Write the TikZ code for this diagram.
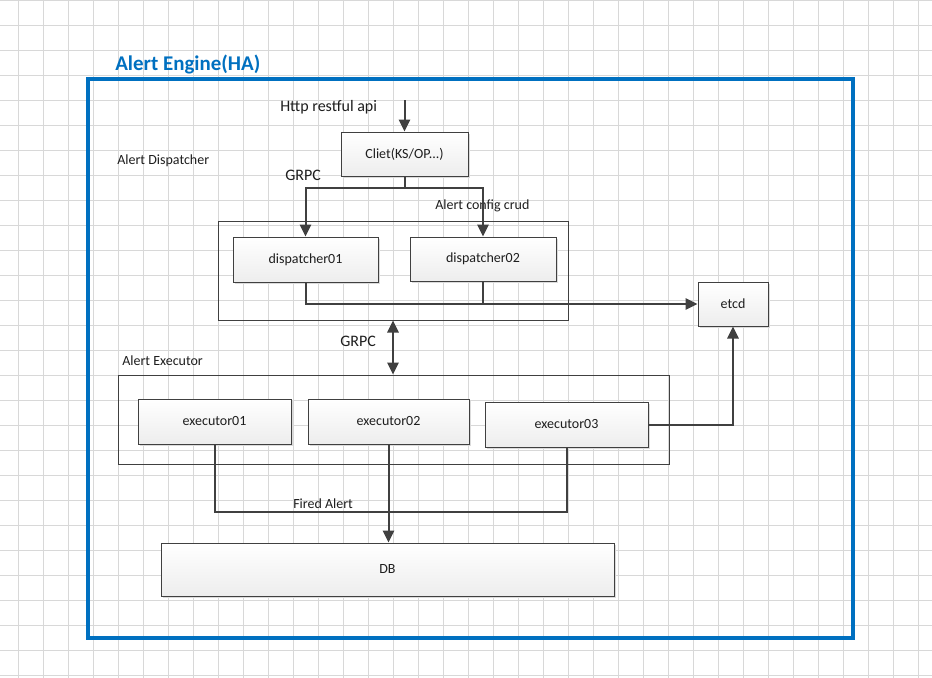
\documentclass[tikz,border=0pt]{standalone}
\usepackage{fontspec}
\setmainfont{Carlito}
\usetikzlibrary{arrows.meta,shadows,calc}
\definecolor{vblue}{RGB}{0,112,192}
\definecolor{lnc}{RGB}{64,64,64}
\definecolor{gridc}{RGB}{216,216,216}
\definecolor{txtc}{RGB}{30,30,30}
\begin{document}
\begin{tikzpicture}[x=0.75pt,y=-0.75pt,
  box/.style={draw=lnc,line width=0.75pt,top color=white,bottom color=black!7,inner sep=0pt,
    font=\fontsize{10.5}{12}\selectfont,text=txtc,
    drop shadow={shadow xshift=1.5pt,shadow yshift=-1.5pt,fill=black!14,opacity=1}},
  group/.style={draw=lnc,line width=0.75pt,inner sep=0pt},
  conn/.style={draw=lnc,line width=1.5pt},
  arr/.style={-{Triangle[length=9pt,width=8.5pt]}},
  biarr/.style={{Triangle[length=9pt,width=8.5pt]}-{Triangle[length=9pt,width=8.5pt]}},
  lbl/.style={font=\fontsize{10.5}{12}\selectfont,text=txtc,inner sep=0pt,anchor=west},
  biglbl/.style={font=\fontsize{12}{14}\selectfont,text=txtc,inner sep=0pt,anchor=west}]
\useasboundingbox (0,0) rectangle (932,678);
\fill[white] (0,0) rectangle (932,678);
% grid
\foreach \gx in {18,43,...,918} \draw[gridc,line width=0.6pt] (\gx,0) -- (\gx,678);
\foreach \gy in {0,25,...,675} \draw[gridc,line width=0.6pt] (0,\gy) -- (932,\gy);
% frame and title
\draw[vblue,line width=3pt] (88,79) rectangle (853,638);
\node[font=\bfseries\fontsize{15.7}{18}\selectfont,text=vblue,anchor=west,inner sep=0pt] (title) at (115,65) {Alert Engine(HA)};
% groups
\node[group,minimum width=262.5pt,minimum height=74.25pt] (dg) at (393,270.5) {};
\node[group,minimum width=413.25pt,minimum height=66.75pt] (eg) at (393.5,419.5) {};
% boxes
\node[box,minimum width=95.25pt,minimum height=33pt] (client) at (404.5,154) {Cliet(KS/OP...)};
\node[box,minimum width=108.75pt,minimum height=33.75pt] (d1) at (305.5,259.5) {dispatcher01};
\node[box,minimum width=109.5pt,minimum height=33pt] (d2) at (483,259) {dispatcher02};
\node[box,minimum width=52.5pt,minimum height=33pt] (etcd) at (733,304) {etcd};
\node[box,minimum width=114.75pt,minimum height=33.75pt] (e1) at (214.5,421.5) {executor01};
\node[box,minimum width=120.75pt,minimum height=33.75pt] (e2) at (388.5,421.5) {executor02};
\node[box,minimum width=122.25pt,minimum height=33.75pt] (e3) at (566.5,424.5) {executor03};
\node[box,minimum width=339.75pt,minimum height=39.75pt] (db) at (387.5,569.5) {DB};
% labels
\node[biglbl] (http) at (280,107) {Http restful api};
\node[biglbl] (grpc1) at (285,175) {GRPC};
\node[lbl] (crud) at (435,206) {Alert config crud};
\node[lbl] (adisp) at (117,161) {Alert Dispatcher};
\node[biglbl] (grpc2) at (340,341) {GRPC};
\node[lbl] (aexec) at (122,361) {Alert Executor};
\node[lbl] (fired) at (293,504) {Fired Alert};
% helper coordinates
\coordinate (httpin) at (404.5,100);
\coordinate (split) at (404.5,188);
\coordinate (grpcx) at (393,0);
\coordinate (faY) at (0,512);
% connectors
\draw[conn,arr] (httpin) -- (client.north);
\draw[conn] (client.south) -- (split);
\draw[conn,arr] (split) -| (d1.north);
\draw[conn,arr] (split) -| (d2.north);
\draw[conn,arr] (d1.south) |- (etcd.west);
\draw[conn] (d2.south) -- (d2.south |- etcd.west);
\draw[conn,biarr] (dg.south -| grpcx) -- (eg.north -| grpcx);
\draw[conn] (e1.south) |- (e3.south |- faY) -- (e3.south);
\draw[conn,arr] (e2.south) -- (e2.south |- db.north);
\draw[conn,arr] (e3.east) -| (etcd.south);
\end{tikzpicture}
\end{document}
